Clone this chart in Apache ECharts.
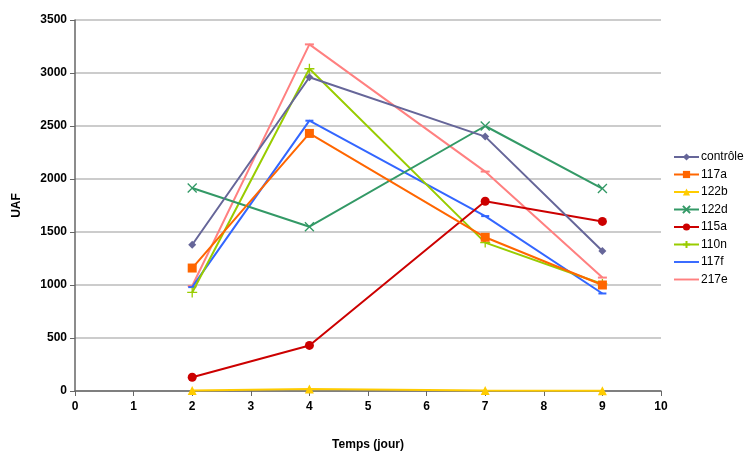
<!DOCTYPE html>
<html>
<head>
<meta charset="utf-8">
<script src="https://cdn.jsdelivr.net/npm/echarts@6/dist/echarts.min.js"></script>
<style>
  html, body { margin: 0; padding: 0; background: #fff; }
  #chart { width: 747px; height: 452px; }
</style>
</head>
<body>
<div id="chart"></div>
<script>
  // jours de mesure
  var days = [2, 4, 7, 9];
  var names = ['contrôle', '117a', '122b', '122d', '115a', '110n', '117f', '217e'];
  var controle = [1380, 2960, 2400, 1320];
  var s117a = [1160, 2430, 1450, 1000];
  var s122b = [5, 20, 5, 3];
  var s122d = [1915, 1550, 2500, 1910];
  var s115a = [130, 430, 1790, 1600];
  var s110n = [930, 3040, 1400, 1010];
  var s117f = [980, 2550, 1650, 920];
  var s217e = [990, 3270, 2070, 1070];
  var values = [controle, s117a, s122b, s122d, s115a, s110n, s117f, s217e];

  var colors = ['#666699', '#FF6600', '#FFCC00', '#339966', '#CC0000', '#99CC00', '#3366FF', '#FF8080'];
  var symbols = [
    'diamond', 'rect', 'triangle',
    'path://M0,0L10,10M10,0L0,10',
    'circle',
    'path://M5,0L5,10M0,5L10,5',
    'rect', 'rect'
  ];
  var sizes = [8, 9, 9, 9, 9, 10, [8, 2], [9, 2]];

  var series = [];
  for (var i = 0; i < names.length; i++) {
    var stroke = symbols[i].indexOf('path://') == 0;
    series.push({
      name: names[i],
      type: 'line',
      data: days.map(function(d, j) { return [d, values[i][j]]; }),
      symbol: symbols[i],
      symbolSize: sizes[i],
      showAllSymbol: true,
      lineStyle: { color: colors[i], width: 2 },
      itemStyle: {
        color: colors[i],
        borderColor: colors[i],
        borderWidth: stroke ? 1.3 : 0
      },
      z: 10 - i
    });
  }

  // les tirets n'ont pas de marqueur visible dans la légende
  var legendData = names.map(function(n, i) {
    if (n == '117f' || n == '217e') {
      return { name: n, icon: 'path://M0,4L26,4L26,6L0,6Z' };
    }
    return { name: n };
  });

  var chart = echarts.init(document.getElementById('chart'));
  chart.setOption({
    animation: false,
    color: colors,
    textStyle: { fontFamily: 'Liberation Sans, Arial, sans-serif' },
    grid: { left: 75, right: 86, top: 20, bottom: 61, outerBoundsMode: 'none' },
    legend: {
      orient: 'vertical',
      left: 673,
      top: 151,
      padding: 0,
      itemWidth: 25,
      itemHeight: 9,
      itemGap: 5.5,
      textStyle: { fontSize: 12, color: '#000', padding: [0, 0, 0, -3] },
      data: legendData
    },
    xAxis: {
      type: 'value',
      min: 0,
      max: 10,
      interval: 1,
      name: 'Temps (jour)',
      nameLocation: 'middle',
      nameGap: 48,
      nameTextStyle: { fontWeight: 'bold', fontSize: 12, color: '#000' },
      axisLine: { lineStyle: { color: '#666', width: 1.5 } },
      axisTick: { show: true, length: 5, lineStyle: { color: '#666' } },
      axisLabel: { fontWeight: 'bold', fontSize: 12, color: '#000', margin: 10 },
      splitLine: { show: false }
    },
    yAxis: {
      type: 'value',
      min: 0,
      max: 3500,
      interval: 500,
      name: 'UAF',
      nameLocation: 'middle',
      nameGap: 52,
      nameTextStyle: { fontWeight: 'bold', fontSize: 12, color: '#000' },
      axisLine: { show: true, lineStyle: { color: '#666', width: 1.5 } },
      axisTick: { show: true, length: 5, lineStyle: { color: '#666' } },
      axisLabel: {
        fontWeight: 'bold', fontSize: 12, color: '#000', margin: 8,
        formatter: function(v) { return String(v); }
      },
      splitLine: { show: true, lineStyle: { color: '#BBBBBB', width: 1.5 } }
    },
    series: series
  });
</script>
</body>
</html>
